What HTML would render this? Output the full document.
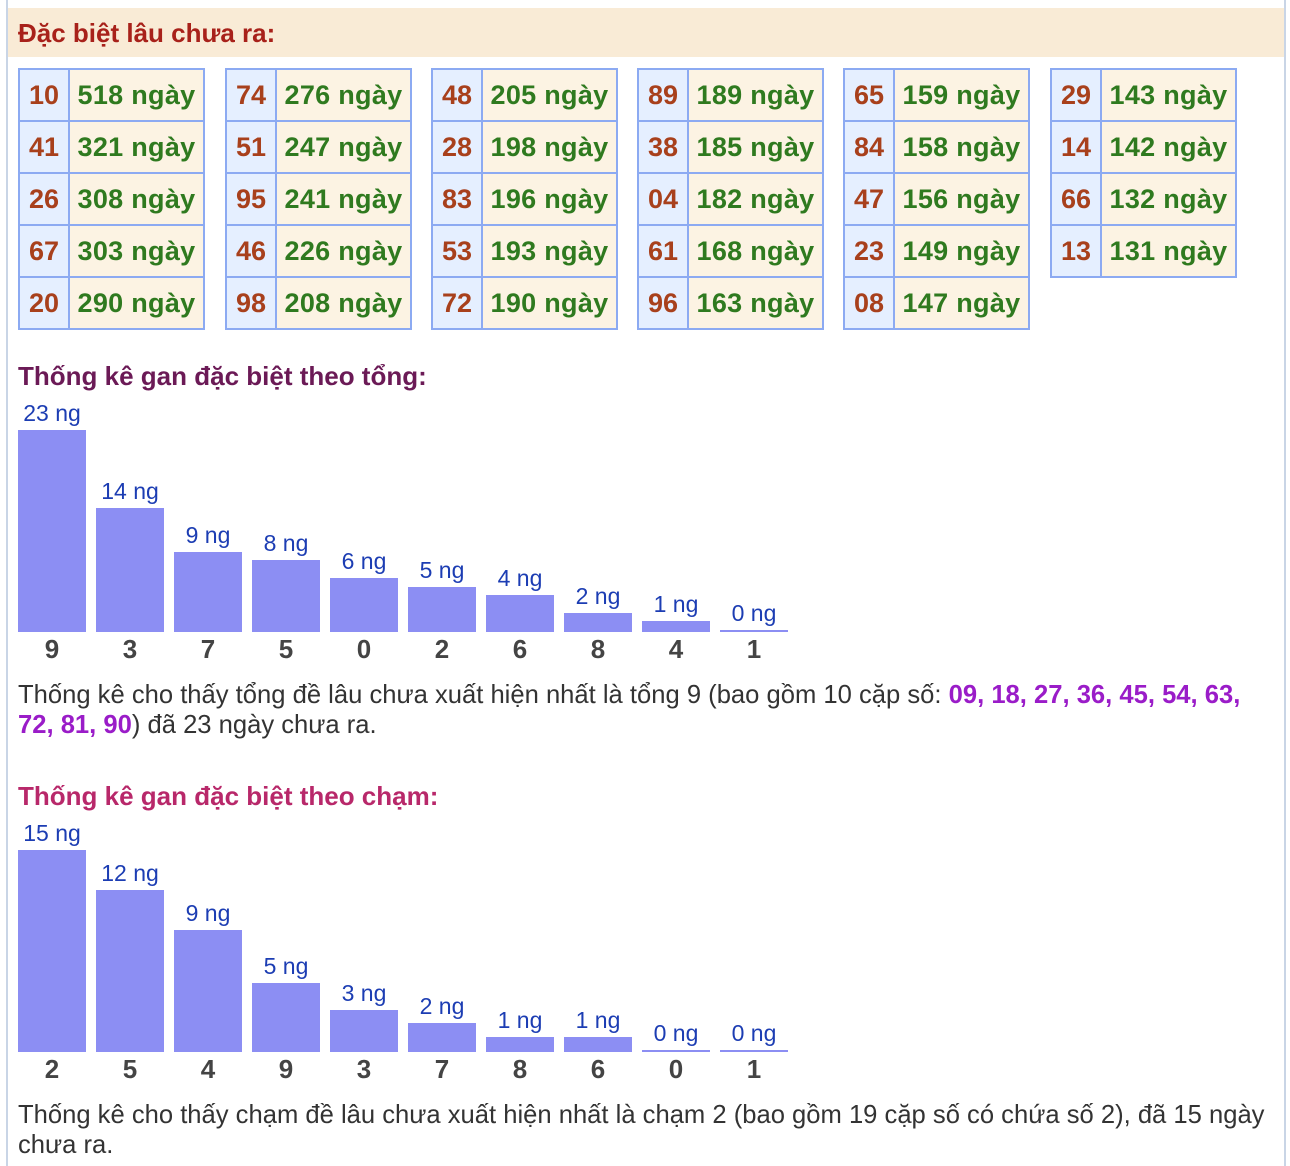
<!DOCTYPE html>
<html><head><meta charset="utf-8">
<style>
body{margin:0;width:1290px;height:1166px;overflow:hidden;background:#fff;font-family:"Liberation Sans",Arial,sans-serif;position:relative}
.abs{position:absolute}
.lb{left:6px;top:0;width:2px;height:1166px;background:#c9d5e6}
.rb{left:1284px;top:0;width:2px;height:1166px;background:#c9d5e6}
.hdr{left:8px;top:8px;width:1276px;height:49px;background:#f9ebd6}
.hdr span{position:absolute;left:10px;top:10px;font-size:26px;font-weight:bold;color:#a8211a}
table{position:absolute;border-collapse:collapse;top:68px}
td{border:2px solid #8caaf2;height:50px;padding:0;font-size:27px;font-weight:bold;text-align:center}
td.n{width:48px;background:#e5efff;color:#a8401c}
td.d{width:133px;background:#fcf3e3;color:#2f7a1f;letter-spacing:0.3px}
.title{font-size:26px;font-weight:bold}
.txt{font-size:25.6px;color:#333;line-height:30px;left:18px;width:1262px}
.txt b{color:#9a1cc8}
.bar{position:absolute;background:#8c8ef3}
.val{position:absolute;font-size:23px;color:#1c3db3;text-align:center;width:78px}
.cat{position:absolute;font-size:26px;font-weight:bold;color:#444;text-align:center;width:68px}
</style></head><body>
<div class="abs lb"></div>
<div class="abs rb"></div>
<div class="abs hdr"><span>Đặc biệt lâu chưa ra:</span></div>
<div id="tables"></div>
<div class="abs title" style="left:18px;top:361px;color:#6b1a56">Thống kê gan đặc biệt theo tổng:</div>
<div class="abs" id="chart1" style="left:0;top:0"></div>
<div class="abs txt" style="top:680px">Thống kê cho thấy tổng đề lâu chưa xuất hiện nhất là tổng 9 (bao gồm 10 cặp số: <b>09, 18, 27, 36, 45, 54, 63, 72, 81, 90</b>) đã 23 ngày chưa ra.</div>
<div class="abs title" style="left:18px;top:781px;color:#b8286a">Thống kê gan đặc biệt theo chạm:</div>
<div class="abs" id="chart2" style="left:0;top:0"></div>
<div class="abs txt" style="top:1100px">Thống kê cho thấy chạm đề lâu chưa xuất hiện nhất là chạm 2 (bao gồm 19 cặp số có chứa số 2), đã 15 ngày chưa ra.</div>
<script>
const tableNums=[["10","41","26","67","20"],["74","51","95","46","98"],["48","28","83","53","72"],["89","38","04","61","96"],["65","84","47","23","08"],["29","14","66","13"]];
const tableDays=[[518,321,308,303,290],[276,247,241,226,208],[205,198,196,193,190],[189,185,182,168,163],[159,158,156,149,147],[143,142,132,131]];
const sumCats=["9","3","7","5","0","2","6","8","4","1"];
const sumVals=[23,14,9,8,6,5,4,2,1,0];
const touchCats=["2","5","4","9","3","7","8","6","0","1"];
const touchVals=[15,12,9,5,3,2,1,1,0,0];

const tc=document.getElementById('tables');
const tx=[18,225,431,637,843,1050];
tableNums.forEach((col,i)=>{
  const t=document.createElement('table');
  
  
  t.style.left=tx[i]+'px';
  col.forEach((n,j)=>{
    const tr=document.createElement('tr');
    
    
    const a=document.createElement('td');a.className='n';a.textContent=n;
    
    
    const b=document.createElement('td');b.className='d';b.textContent=tableDays[i][j]+' ngày';
    
    
    tr.appendChild(a);tr.appendChild(b);t.appendChild(tr);
  });
  tc.appendChild(t);
});

function drawChart(id,cats,vals,base){
  const c=document.getElementById(id);
  const max=Math.max(...vals);
  const y=v=>200*v/max+2;
  cats.forEach((cat,i)=>{
    const x=18+78*i;
    const h=y(vals[i]);
    const b=document.createElement('div');b.className='bar';
    
    
    b.style.left=x+'px';b.style.top=(base-h)+'px';b.style.width='68px';b.style.height=h+'px';
    c.appendChild(b);
    const v=document.createElement('div');v.className='val';
    
    
    v.textContent=vals[i]+' ng';
    v.style.left=(x-5)+'px';v.style.top=(base-h-30)+'px';
    c.appendChild(v);
    const l=document.createElement('div');l.className='cat';
    
    
    l.textContent=cat;
    l.style.left=x+'px';l.style.top=(base+2)+'px';
    c.appendChild(l);
  });
}
drawChart('chart1',sumCats,sumVals,632);
drawChart('chart2',touchCats,touchVals,1052);
</script>
</body></html>
